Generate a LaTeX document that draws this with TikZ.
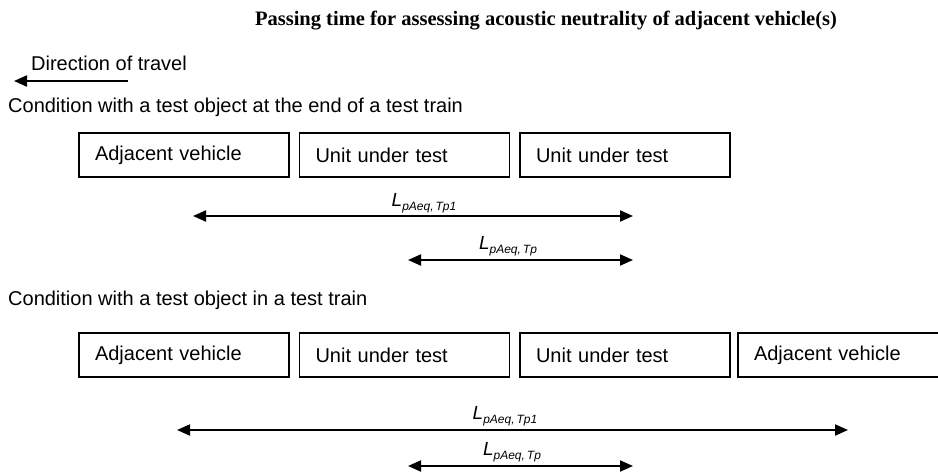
\documentclass[tikz,border=0pt]{standalone}
\usepackage{fontspec}
\setmainfont{Liberation Sans}
\newfontfamily\titlefont{Liberation Serif}
\usetikzlibrary{arrows.meta}

\tikzstyle{car} = [draw,line width=1.6pt,minimum height=44pt,inner xsep=16pt,text width=178pt,align=left,font=\fontsize{20}{22}\selectfont]
\tikzstyle{span} = [line width=2pt,{Triangle[length=13pt,width=11pt]}-{Triangle[length=13pt,width=11pt]}]
\tikzstyle{heading} = [anchor=west,inner sep=0pt,font=\fontsize{20}{22}\selectfont]
\tikzstyle{sym} = [inner sep=0pt,font=\fontsize{19}{20}\selectfont\itshape]

\newcommand{\lvl}[1]{L\raisebox{-0.45ex}{\fontsize{12}{12}\selectfont #1}}

\begin{document}
\begin{tikzpicture}[x=1pt,y=-1pt]
	\useasboundingbox (0,0) rectangle (938,474);

	\node[font=\titlefont\bfseries\fontsize{20.5}{22}\selectfont] (title) at (546,21) {Passing time for assessing acoustic neutrality of adjacent vehicle(s)};

	\node[heading] (dir) at (31,63) {Direction of travel};
	\coordinate (dirS) at (128,81);
	\coordinate (dirE) at (14,81);
	\draw[line width=2pt,-{Triangle[length=13pt,width=11pt]}] (dirS) -- (dirE);

	\node[heading] (cond1) at (8,107) {Condition with a test object at the end of a test train};
	\node[car] (av1) at (184,155) {Adjacent vehicle};
	\node[car] (ut1) at (404.5,155) {Unit under test};
	\node[car] (ut2) at (625,155) {Unit under test};

	\coordinate (p1l) at (193,216);
	\coordinate (p1r) at (633,216);
	\coordinate (p2l) at (408,260);
	\coordinate (p2r) at (633,260);
	\draw[span] (p1l) -- (p1r);
	\draw[span] (p2l) -- (p2r);
	\node[sym] (s1) at (424,203) {\lvl{pAeq,\,Tp1}};
	\node[sym] (s2) at (508,246) {\lvl{pAeq,\,Tp}};

	\node[heading] (cond2) at (8,300) {Condition with a test object in a test train};
	\node[car] (av2) at (184,355) {Adjacent vehicle};
	\node[car] (ut3) at (404.5,355) {Unit under test};
	\node[car] (ut4) at (625,355) {Unit under test};
	\node[car] (av3) at (843,355) {Adjacent vehicle};

	\coordinate (q1l) at (177,430);
	\coordinate (q1r) at (848,430);
	\coordinate (q2l) at (408,466);
	\coordinate (q2r) at (633,466);
	\draw[span] (q1l) -- (q1r);
	\draw[span] (q2l) -- (q2r);
	\node[sym] (s3) at (505,416) {\lvl{pAeq,\,Tp1}};
	\node[sym] (s4) at (512,452) {\lvl{pAeq,\,Tp}};
\end{tikzpicture}
\end{document}
